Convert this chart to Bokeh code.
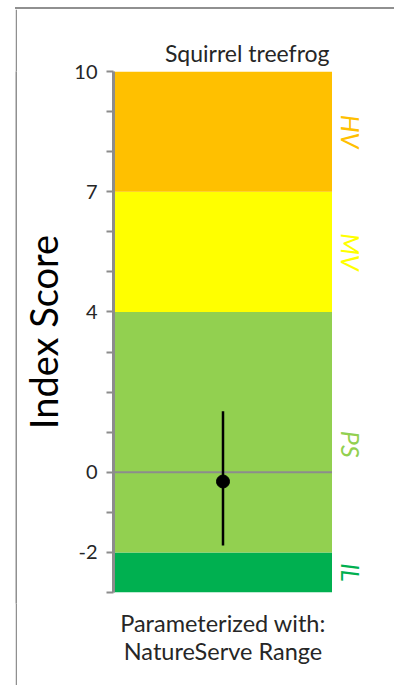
import math
from bokeh.plotting import figure
from bokeh.layouts import row, column, Spacer
from bokeh.models import Range1d, FixedTicker
from bokeh.core.properties import value
from bokeh.embed import file_html
from bokeh.resources import INLINE

# ---- data ----
species = "Squirrel treefrog"
band_names = ["IL", "PS", "MV", "HV"]
band_low = [-3, -2, 4, 7]
band_high = [-2, 4, 7, 10]
band_colors = ["#00B050", "#92D050", "#FFFF00", "#FFC000"]
band_label_y = [-2.5, 0.7, 5.5, 8.5]
tick_values = list(range(-3, 11))
labeled_ticks = [-2, 0, 4, 7, 10]
score_x = [0.5]
score = [-0.23]
score_low = [-1.83]
score_high = [1.52]
y_title = "Index Score"
x_title = "Parameterized with:\nNatureServe Range"

FONT = "Lato"
GRAY = "#8c8c8c"
BORDER = "#909090"
TXT = "#262626"

# page offset of the plots (frame border sits just outside them)
OX, OY = 17, 9
H = 665
MAIN_W = 332 - OX
SIDE_W = 62
TOP = 71 - OY
BOTTOM = H - (592 - OY)

p = figure(width=MAIN_W, height=H, output_backend="svg", toolbar_location=None,
           x_range=Range1d(0, 1), y_range=Range1d(-3, 10),
           min_border_left=112 - OX, min_border_right=0,
           min_border_top=TOP, min_border_bottom=BOTTOM)
p.outline_line_color = None
p.grid.visible = False
p.background_fill_color = "white"
p.border_fill_color = "white"

# bands
p.quad(left=0, right=1, bottom=band_low, top=band_high, fill_color=band_colors, line_color=None)

# zero line across the column
p.segment(x0=[0], y0=[0], x1=[1], y1=[0], line_color=GRAY, line_width=2)

# error bar and point
p.segment(x0=score_x, y0=score_low, x1=score_x, y1=score_high, line_color="black", line_width=2.5)
p.scatter(x=score_x, y=score, size=13, fill_color="black", line_color="black")

# y axis
yax = p.yaxis[0]
yax.ticker = FixedTicker(ticks=tick_values)
yax.major_label_overrides = {v: ("" if v not in labeled_ticks else str(v)) for v in tick_values}
yax.minor_tick_line_color = None
yax.major_tick_in = 0
yax.major_tick_out = 7
yax.major_tick_line_color = GRAY
yax.major_tick_line_width = 2
yax.axis_line_color = GRAY
yax.axis_line_width = 3
yax.major_label_text_font = FONT
yax.major_label_text_font_size = "20px"
yax.major_label_text_color = TXT
yax.major_label_standoff = 9
yax.axis_label = y_title
yax.axis_label_text_font = FONT
yax.axis_label_text_font_size = "38px"
yax.axis_label_text_font_style = "normal"
yax.axis_label_text_color = "black"
yax.axis_label_standoff = 5

# x axis (only its label)
xax = p.xaxis[0]
xax.ticker = FixedTicker(ticks=[])
xax.axis_line_color = None
xax.major_tick_line_color = None
xax.minor_tick_line_color = None
xax.axis_label = x_title
xax.axis_label_text_font = FONT
xax.axis_label_text_font_size = "23.5px"
xax.axis_label_text_font_style = "normal"
xax.axis_label_text_color = TXT
xax.axis_label_text_line_height = 1.0
xax.axis_label_standoff = 16

# title, right-aligned to the column edge
p.title.text = species
p.title.align = "right"
p.title.offset = 3
p.title.text_font = FONT
p.title.text_font_size = "23px"
p.title.text_font_style = "normal"
p.title.text_color = TXT

# side strip holding the band names, sharing the y scale
s = figure(width=SIDE_W, height=H, output_backend="svg", toolbar_location=None,
           x_range=Range1d(0, 1), y_range=p.y_range, x_axis_type=None, y_axis_type=None,
           min_border_left=0, min_border_right=0, min_border_top=TOP, min_border_bottom=BOTTOM)
s.outline_line_color = None
s.grid.visible = False
s.background_fill_color = "white"
s.border_fill_color = "white"
s.text(x=[18 / SIDE_W] * len(band_names), y=band_label_y, text=band_names, angle=-math.pi / 2,
       text_align="center", text_baseline="middle", text_color=band_colors,
       text_font=value(FONT), text_font_size="25px", text_font_style="italic")


def bar(w, h):
    b = figure(width=w, height=h, output_backend="svg", toolbar_location=None, title=None,
               x_axis_type=None, y_axis_type=None, min_border=0)
    b.outline_line_color = None
    b.grid.visible = False
    b.background_fill_color = BORDER
    b.border_fill_color = BORDER
    return b


top_bar = Spacer(width=OX - 15 + MAIN_W + SIDE_W, height=2,
                 styles={"background-color": BORDER})
left_bar = bar(2, H + 11)

layout = column(
    Spacer(width=10, height=OY - 2),
    row(Spacer(width=15, height=10),
        column(top_bar, row(left_bar, p, s, spacing=0), spacing=0),
        spacing=0),
    spacing=0,
)

open("out.html", "w").write(file_html(layout, INLINE))
